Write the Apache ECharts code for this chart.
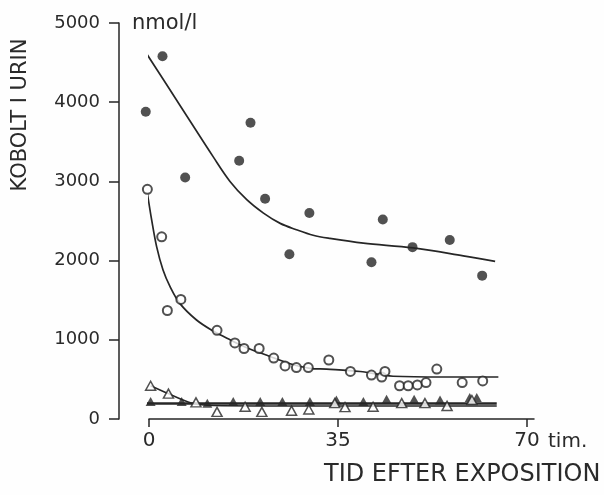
<!DOCTYPE html>
<html>
<head>
<meta charset="utf-8">
<script src="https://cdn.jsdelivr.net/npm/echarts@6/dist/echarts.min.js"></script>
<style>html,body{margin:0;padding:0;background:#fff}#c{width:604px;height:495px}</style>
</head>
<body>
<div id="c"></div>
<script>
// ---- data ----
var xTicks = [0, 35, 70];
var yTicks = [0, 1000, 2000, 3000, 4000, 5000];

var filledCircles = [[-0.6,3880],[2.5,4580],[6.7,3050],[16.7,3260],[18.8,3740],[21.5,2780],[26.0,2080],[29.7,2600],[41.2,1980],[43.3,2520],[48.8,2170],[55.7,2260],[61.7,1810]];
var filledCurve = [[-0.7,4640],[5.6,3975],[11.9,3310],[15.0,3000],[18.1,2770],[21.2,2600],[24.3,2470],[27.3,2390],[30.4,2320],[33.5,2280],[39.7,2220],[48.9,2160],[58.2,2060],[64.1,1990]];

var openCircles = [[-0.3,2900],[2.35,2300],[3.4,1370],[5.9,1510],[12.6,1120],[15.9,960],[17.6,890],[20.4,890],[23.1,770],[25.2,670],[27.3,650],[29.5,650],[33.3,745],[37.3,600],[41.2,555],[43.1,530],[43.7,600],[46.4,420],[48.0,420],[49.7,430],[51.3,460],[53.3,630],[58.0,460],[61.8,480]];
var openCurve = [[-0.3,2850],[0.5,2510],[1.4,2180],[2.6,1880],[3.9,1670],[5.7,1460],[8.8,1250],[11.9,1110],[15.0,1000],[18.1,900],[22.4,790],[26.0,700],[29.8,640],[32.9,630],[39.1,600],[45.2,540],[54.5,530],[64.7,530]];

var openTriangles = [[0.3,420],[3.6,320],[8.7,210],[12.6,90],[17.8,155],[20.9,90],[26.4,105],[29.6,120],[34.4,200],[36.3,150],[41.5,155],[46.8,200],[51.1,200],[55.2,165],[59.8,240]];
var filledTriangles = [[0.3,220],[6.05,220],[10.8,200],[15.6,220],[20.6,220],[24.7,220],[29.8,220],[34.7,240],[39.7,220],[44.0,250],[49.1,250],[53.9,240],[59.4,270],[60.7,270]];
var openTriCurve = [[0.3,420],[3.6,320],[8.0,200],[12.0,170],[20.0,165],[64.4,165]];
var filledTriCurve = [[-0.7,195],[64.4,195]];

var ink = '#262626';
var FONT = 'DejaVu Sans';

var chart = echarts.init(document.getElementById('c'), null, {renderer: 'canvas'});
function lineSeries(data, w) {
  return {type: 'line', data: data, smooth: 0.35, showSymbol: false, symbol: 'none', clip: false,
    lineStyle: {color: ink, width: w}, silent: true, z: 2};
}
chart.setOption({
  backgroundColor: '#fefefe',
  animation: false,
  grid: {left: 149, right: 70, top: 23, bottom: 76, containLabel: false},
  xAxis: {
    type: 'value', min: 0, max: 71.3, interval: 35,
    splitLine: {show: false},
    axisLine: {show: true, onZero: false, lineStyle: {color: ink, width: 1.5}},
    axisTick: {show: true, length: 8, inside: false, customValues: xTicks, lineStyle: {color: ink, width: 1.5}},
    axisLabel: {customValues: xTicks, margin: 12, fontFamily: FONT, fontSize: 20, color: '#2a2a2a'}
  },
  yAxis: {
    type: 'value', min: 0, max: 5000, interval: 1000, offset: 30,
    splitLine: {show: false},
    axisLine: {show: true, onZero: false, lineStyle: {color: ink, width: 1.5}},
    axisTick: {show: true, length: 10, lineStyle: {color: ink, width: 1.5}},
    axisLabel: {margin: 19, fontFamily: FONT, fontSize: 18, color: '#2a2a2a',
      customValues: yTicks, formatter: function (v) { return String(v); }}
  },
  graphic: [
    {type: 'text', left: 132, top: 13, style: {text: 'nmol/l', font: '21px "DejaVu Sans"', fill: '#2a2a2a'}},
    {type: 'text', left: 548, top: 432, style: {text: 'tim.', font: '20px "DejaVu Sans"', fill: '#2a2a2a'}},
    {type: 'text', left: 324, top: 463, style: {text: 'TID EFTER EXPOSITION', font: '24px "DejaVu Sans"', fill: '#2a2a2a'}},
    {type: 'text', x: 21, y: 115, rotation: Math.PI / 2,
      style: {text: 'KOBOLT I URIN', font: '21px "DejaVu Sans"', fill: '#2a2a2a', align: 'center', verticalAlign: 'middle'}}
  ],
  series: [
    lineSeries(filledCurve, 1.7),
    lineSeries(openCurve, 1.7),
    lineSeries(openTriCurve, 1.5),
    lineSeries(filledTriCurve, 2.5),
    {type: 'scatter', data: filledCircles, symbol: 'circle', symbolSize: 10, clip: false,
      itemStyle: {color: ink}, z: 3},
    {type: 'scatter', data: openCircles, symbol: 'circle', symbolSize: 9, clip: false,
      itemStyle: {color: '#fff', borderColor: ink, borderWidth: 2}, z: 3},
    {type: 'scatter', data: filledTriangles, symbol: 'triangle', symbolSize: [10, 9], clip: false,
      itemStyle: {color: ink}, z: 3},
    {type: 'scatter', data: openTriangles, symbol: 'triangle', symbolSize: [10, 9], clip: false,
      itemStyle: {color: '#fff', borderColor: ink, borderWidth: 1.5}, z: 4}
  ]
});
</script>
</body>
</html>
